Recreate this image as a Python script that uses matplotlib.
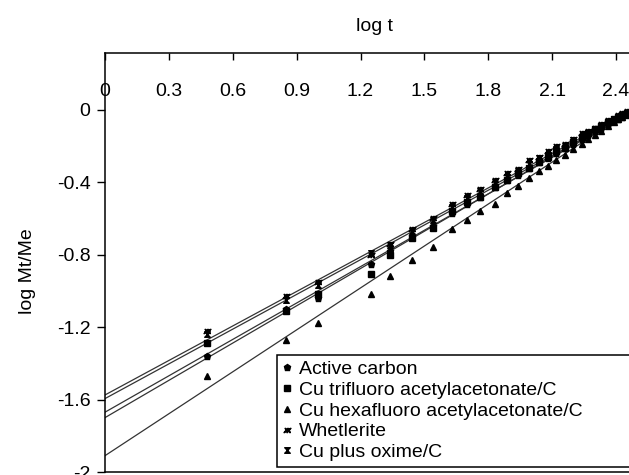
import numpy as np
import matplotlib
matplotlib.use("Agg")
import matplotlib.pyplot as plt
from matplotlib.path import Path

plt.rcParams["font.family"] = ["Liberation Sans", "DejaVu Sans"]
plt.rcParams["axes.unicode_minus"] = False

# log t (x) and log Mt/Me (y)
log_t = [0.48, 0.85, 1.00, 1.25, 1.34, 1.44, 1.54, 1.63, 1.70, 1.76, 1.83, 1.89, 1.94, 1.99,
         2.04, 2.08, 2.12, 2.16, 2.20, 2.24, 2.27, 2.30, 2.33, 2.36, 2.39, 2.41, 2.43, 2.45]

active_carbon = [-1.36, -1.10, -1.04, -0.85, -0.78, -0.70, -0.64, -0.57, -0.52, -0.48, -0.43, -0.39,
                 -0.36, -0.32, -0.29, -0.27, -0.24, -0.21, -0.19, -0.16, -0.14, -0.12, -0.10, -0.08,
                 -0.06, -0.05, -0.04, -0.03]
cu_trifluoro = [-1.29, -1.11, -1.02, -0.91, -0.80, -0.71, -0.655, -0.56, -0.51, -0.48, -0.43, -0.39,
                -0.35, -0.32, -0.29, -0.26, -0.23, -0.21, -0.18, -0.15, -0.13, -0.11, -0.09, -0.07,
                -0.05, -0.04, -0.03, -0.02]
cu_hexafluoro = [-1.47, -1.27, -1.18, -1.02, -0.92, -0.83, -0.76, -0.66, -0.61, -0.56, -0.52, -0.46,
                 -0.42, -0.38, -0.34, -0.31, -0.28, -0.25, -0.22, -0.19, -0.16, -0.14, -0.12, -0.09,
                 -0.07, -0.05, -0.04, -0.02]
whetlerite = [-1.22, -1.03, -0.95, -0.80, -0.74, -0.66, -0.60, -0.52, -0.47, -0.44, -0.39, -0.35,
              -0.33, -0.28, -0.26, -0.23, -0.20, -0.19, -0.16, -0.13, -0.12, -0.10, -0.08, -0.06,
              -0.05, -0.03, -0.02, -0.01]
cu_oxime = [-1.24, -1.05, -0.97, -0.79, -0.75, -0.67, -0.61, -0.54, -0.49, -0.45, -0.40, -0.37,
            -0.34, -0.30, -0.27, -0.25, -0.22, -0.20, -0.17, -0.15, -0.13, -0.11, -0.09, -0.07,
            -0.05, -0.04, -0.03, -0.02]

# fitted lines, end values
fit_x = [0.0, 2.45]
fit_active = [-1.67, -0.03]
fit_trifluoro = [-1.70, -0.02]
fit_hexafluoro = [-1.91, -0.02]
fit_whetlerite = [-1.575, -0.02]
fit_oxime = [-1.595, -0.03]

labels = ["Active carbon", "Cu trifluoro acetylacetonate/C", "Cu hexafluoro acetylacetonate/C",
          "Whetlerite", "Cu plus oxime/C"]

xticks = [0, 0.3, 0.6, 0.9, 1.2, 1.5, 1.8, 2.1, 2.4]
xtick_labels = ["0", "0.3", "0.6", "0.9", "1.2", "1.5", "1.8", "2.1", "2.4"]
yticks = [0, -0.4, -0.8, -1.2, -1.6, -2]
ytick_labels = ["0", "-0.4", "-0.8", "-1.2", "-1.6", "-2"]

hourglass = Path([(-1, 1), (1, 1), (-1, -1), (1, -1), (-1, 1)],
                 [Path.MOVETO, Path.LINETO, Path.LINETO, Path.LINETO, Path.CLOSEPOLY])

fig = plt.figure(figsize=(6.29, 4.75), dpi=100)
ax = fig.add_axes([0.1669, 0.0063, 0.8633, 0.8821])

series = [active_carbon, cu_trifluoro, cu_hexafluoro, whetlerite, cu_oxime]
fits = [fit_active, fit_trifluoro, fit_hexafluoro, fit_whetlerite, fit_oxime]
markers = ["p", "s", "^", "$\u0436$", hourglass]
sizes = [4.5, 4.5, 5, 5, 4]

for ys, fy, m, s, lab in zip(series, fits, markers, sizes, labels):
    ax.plot(fit_x, fy, color="#333333", lw=0.9, zorder=2)
    ax.plot(log_t, ys, ls="none", marker=m, ms=s, color="black", label=lab, zorder=3)

ax.set_xlim(0, 2.55)
ax.set_ylim(-2, 0.312)

ax.xaxis.tick_top()
ax.set_xticks(xticks)
ax.set_xticklabels(xtick_labels)
ax.set_yticks(yticks)
ax.set_yticklabels(ytick_labels)
ax.tick_params(axis="x", direction="in", length=5, width=1, labelsize=14, pad=-34)
ax.tick_params(axis="y", direction="out", length=5.5, width=1, labelsize=14, pad=5)

ax.spines["right"].set_visible(False)
for sp in ["left", "top", "bottom"]:
    ax.spines[sp].set_linewidth(1.1)

ax.xaxis.set_label_position("top")
ax.set_xlabel("log t", fontsize=14, va="center")
ax.xaxis.set_label_coords(0.497, 1.064)
ax.set_ylabel("log Mt/Me", fontsize=14, va="center")
ax.yaxis.set_label_coords(-0.142, 0.48)

leg = ax.legend(loc="lower left", bbox_to_anchor=(0.317, 0.012, 0.75, 0.2), mode="expand",
                fontsize=14, frameon=True, fancybox=False, framealpha=1, edgecolor="black",
                handlelength=0.4, handletextpad=0.4, labelspacing=0.16, borderpad=0.3,
                borderaxespad=0)
leg.get_frame().set_linewidth(1.1)

fig.savefig("out.png", dpi=100)
